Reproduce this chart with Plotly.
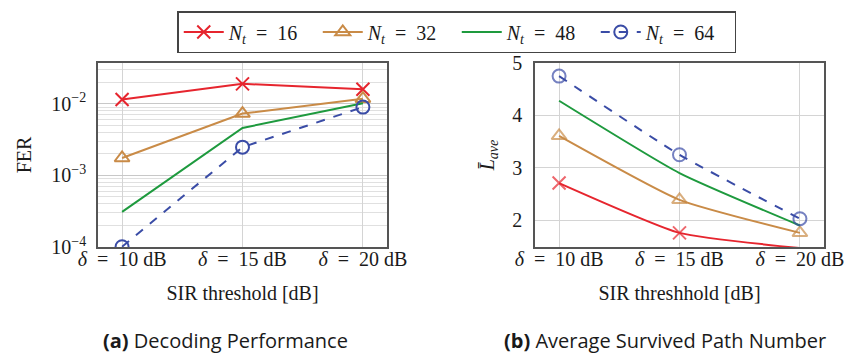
import plotly.graph_objects as go

# SIR thresholds (dB)
thresholds = [10, 15, 20]
EN = "\u2002"
tick_labels = [f"<i>δ</i>{EN}={EN}{v} dB" for v in thresholds]

# Frame error rate per number of paths N_t
fer_16 = [0.0115, 0.019, 0.016]
fer_32 = [0.00175, 0.0073, 0.0118]
fer_48 = [0.00031, 0.0046, 0.0102]
fer_64 = [0.000101, 0.00248, 0.0090]

# Average number of survived paths per N_t
lave_16 = [2.71, 1.76, 1.47]
lave_32 = [3.61, 2.39, 1.76]
lave_48 = [4.28, 2.90, 1.90]
lave_64 = [4.75, 3.25, 2.03]

series_names = ["16", "32", "48", "64"]
colors = ["#e6252e", "#c98b47", "#1e9a3e", "#3a4ca6"]
symbols = ["x-thin-open", "triangle-up-open", None, "circle-open"]
dashes = ["solid", "solid", "solid", "dash"]

SERIF = "Liberation Serif"
SANS = "Open Sans"
INK = "#1a1a1a"
LAVE_MIN = 1.49

fig = go.Figure()

fer_data = [fer_16, fer_32, fer_48, fer_64]
lave_data = [lave_16, lave_32, lave_48, lave_64]

for i, name in enumerate(series_names):
    label = f"<i>N</i><sub><i>t</i></sub>{EN}={EN}{name}"
    mode = "lines+markers" if symbols[i] else "lines"

    def make_marker(values):
        if not symbols[i]:
            return None
        # markers whose point lies below the visible range are not drawn
        return dict(symbol=symbols[i], color=colors[i],
                    size=[13 if v >= LAVE_MIN else 0 for v in values],
                    line=dict(width=2, color=colors[i]))

    fig.add_trace(go.Scatter(
        x=thresholds, y=fer_data[i], name=label, mode=mode,
        line=dict(color=colors[i], width=2, dash=dashes[i]),
        marker=(dict(symbol=symbols[i], size=13, color=colors[i],
                     line=dict(width=2, color=colors[i])) if symbols[i] else None),
        xaxis="x", yaxis="y", showlegend=True,
    ))
    fig.add_trace(go.Scatter(
        x=thresholds, y=lave_data[i], name=label, mode=mode,
        line=dict(color=colors[i], width=2, dash=dashes[i],
                  shape="spline", smoothing=0.5),
        marker=make_marker(lave_data[i]),
        xaxis="x2", yaxis="y2", showlegend=False,
    ))

W, H = 849, 360
left_dom = [98 / W, 387 / W]
right_dom = [535 / W, 824 / W]
y_dom = [1 - 247 / H, 1 - 63 / H]

frame = dict(showline=True, mirror=True, linecolor="#555555", linewidth=1.5,
             ticks="", zeroline=False, automargin=False)
tickfont = dict(family=SERIF, size=20, color=INK)
titlefont = dict(family=SERIF, size=20, color=INK)

minor_vals = [m * 10 ** e for e in (-4, -3, -2) for m in range(2, 10)]

fig.update_layout(
    width=W, height=H,
    margin=dict(l=0, r=0, t=0, b=0, autoexpand=False),
    paper_bgcolor="white", plot_bgcolor="white",
    xaxis=dict(domain=left_dom, anchor="y", range=[9, 21],
               tickvals=thresholds, ticktext=tick_labels, tickfont=tickfont,
               ticklabelstandoff=-7,
               showgrid=True, gridcolor="#d4d4d4", gridwidth=1.2,
               title=dict(text="SIR threshold [dB]", font=titlefont, standoff=17),
               **frame),
    yaxis=dict(domain=y_dom, anchor="x", type="log", range=[-4, -1.43],
               tickvals=[1e-4, 1e-3, 1e-2],
               ticktext=["10<sup>−4</sup>", "10<sup>−3</sup>", "10<sup>−2</sup>"],
               tickfont=tickfont, ticklabelstandoff=6,
               showgrid=True, gridcolor="#c8c8c8", gridwidth=1.2,
               minor=dict(tickvals=minor_vals, showgrid=True,
                          gridcolor="#e0e0e0", gridwidth=1, ticks=""),
               title=dict(text="FER", font=titlefont, standoff=14),
               **frame),
    xaxis2=dict(domain=right_dom, anchor="y2", range=[9, 21],
                tickvals=thresholds, ticktext=tick_labels, tickfont=tickfont,
                ticklabelstandoff=-7,
                showgrid=True, gridcolor="#d4d4d4", gridwidth=1.2,
                title=dict(text="SIR threshhold [dB]", font=titlefont, standoff=17),
                **frame),
    yaxis2=dict(domain=y_dom, anchor="x2", range=[LAVE_MIN, 5],
                tickvals=[2, 3, 4, 5], tickfont=tickfont, ticklabelstandoff=7,
                showgrid=True, gridcolor="#d4d4d4", gridwidth=1.2,
                title=dict(text="<i>L̄</i><sub><i>ave</i></sub>", font=titlefont,
                           standoff=12),
                **frame),
    legend=dict(orientation="h", x=0.538, xanchor="center", y=1 - 11 / H,
                yanchor="top", bordercolor="#444444", borderwidth=1.5,
                bgcolor="white", font=dict(family=SERIF, size=20, color=INK),
                tracegroupgap=0, itemwidth=40, entrywidth=84),
    annotations=[
        dict(text="<b>(a)</b> Decoding Performance", x=225 / W, y=1 - 340 / H,
             xref="paper", yref="paper", xanchor="center", yanchor="middle",
             showarrow=False, font=dict(family=SANS, size=20, color=INK)),
        dict(text="<b>(b)</b> Average Survived Path Number", x=665 / W, y=1 - 340 / H,
             xref="paper", yref="paper", xanchor="center", yanchor="middle",
             showarrow=False, font=dict(family=SANS, size=20, color=INK)),
    ],
)

fig.write_html("out.html")
